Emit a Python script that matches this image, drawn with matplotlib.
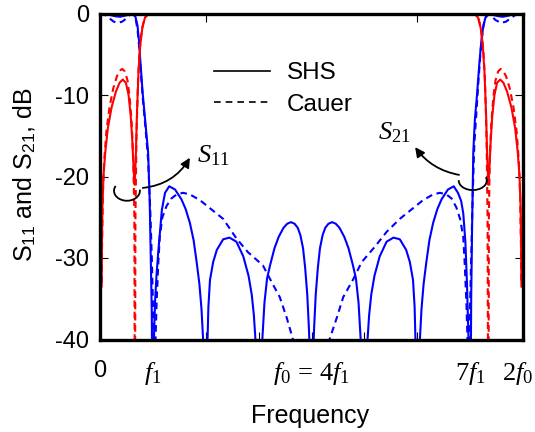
import matplotlib
matplotlib.use('Agg')
import matplotlib.pyplot as plt
import matplotlib.transforms as mtransforms
from matplotlib.patches import Arc, FancyArrowPatch
from matplotlib.lines import Line2D

plt.rcParams['font.family'] = ['Liberation Sans', 'DejaVu Sans']
plt.rcParams['mathtext.fontset'] = 'custom'
plt.rcParams['mathtext.rm'] = 'Liberation Serif'
plt.rcParams['mathtext.it'] = 'Liberation Serif:italic'
plt.rcParams['mathtext.bf'] = 'Liberation Serif:bold'
plt.rcParams['mathtext.sf'] = 'Liberation Sans'

# ---------------- data (x in units of f1, y in dB) ----------------
shs_blue_x = [0, 0.1, 0.2, 0.3, 0.38, 0.45, 0.55, 0.62, 0.67, 0.71, 0.74, 0.77, 0.81, 0.86, 0.91, 0.94, 0.96, 0.98, 1.0,
              1.02, 1.04, 1.07, 1.1, 1.14, 1.17, 1.23, 1.31, 1.42, 1.54, 1.62, 1.70, 1.77, 1.83, 1.88, 1.92, 1.95, 1.98, 2.0,
              2.03, 2.05, 2.08, 2.14, 2.21, 2.33, 2.45, 2.58, 2.71, 2.81, 2.87, 2.91, 2.94, 2.97, 3.0,
              3.04, 3.07, 3.11, 3.16, 3.22, 3.3, 3.38, 3.47, 3.54, 3.61, 3.68, 3.74, 3.79, 3.84, 3.88, 3.92, 3.95, 3.97, 4.0,
              4.03, 4.05, 4.08, 4.12, 4.16, 4.21, 4.26, 4.32, 4.39, 4.46, 4.53, 4.62, 4.7, 4.78, 4.84, 4.89, 4.93, 4.96, 5.0,
              5.03, 5.06, 5.09, 5.13, 5.19, 5.29, 5.42, 5.55, 5.67, 5.79, 5.86, 5.92, 5.95, 5.97, 6.0,
              6.02, 6.05, 6.08, 6.12, 6.17, 6.23, 6.30, 6.38, 6.46, 6.58, 6.69, 6.77, 6.83, 6.87, 6.91, 6.94, 6.97, 7.0,
              7.02, 7.04, 7.06, 7.09, 7.13, 7.17, 7.21, 7.25, 7.29, 7.35, 7.45, 7.55, 7.62, 7.7, 7.8, 7.9, 8.0]
shs_blue_y = [0, -0.05, -0.2, -0.35, -0.4, -0.3, -0.15, -0.1, -0.4, -1.5, -3.5, -6.5, -10, -13.5, -17, -23, -30, -37, -60,
              -40, -35.5, -32, -29.4, -26.3, -24.1, -22.0, -21.2, -21.6, -22.8, -24.0, -25.7, -27.8, -30.6, -33.2, -36.3, -40, -46, -60,
              -41, -36, -32.7, -30.5, -29.0, -27.7, -27.5, -28.0, -29.8, -32.2, -34.5, -37, -40, -45, -60,
              -46, -40, -35.5, -32.5, -30.8, -28.8, -27.4, -26.3, -25.8, -25.6, -25.8, -26.3, -27.2, -28.8, -31.2, -34.5, -38.5, -42, -60,
              -42, -38.5, -34.5, -31.2, -28.8, -27.2, -26.3, -25.8, -25.6, -25.8, -26.3, -27.4, -28.8, -30.8, -32.5, -35.5, -40, -46, -60,
              -45, -40, -37, -34.5, -32.2, -29.8, -28.0, -27.5, -27.7, -29.0, -30.5, -32.7, -36, -41, -60,
              -46, -40, -36.3, -33.2, -30.6, -27.8, -25.7, -24.0, -22.8, -21.6, -21.2, -22.0, -23.0, -24.5, -28, -33, -40, -60,
              -35, -25, -17, -13, -10, -6.5, -3.5, -1.5, -0.5, -0.1, -0.2, -0.35, -0.4, -0.3, -0.15, -0.05, 0]

cauer_blue_x = [0, 0.1, 0.18, 0.26, 0.34, 0.42, 0.5, 0.56, 0.62, 0.67, 0.71, 0.74, 0.77, 0.81, 0.86, 0.91, 0.95, 0.98, 1.01, 1.03,
                1.05, 1.07, 1.1, 1.13, 1.18, 1.26, 1.35, 1.45, 1.57, 1.7, 1.89, 2.1, 2.33, 2.58, 2.8, 3.08, 3.25, 3.4, 3.53, 3.65, 3.8, 4.0,
                4.2, 4.34, 4.48, 4.6, 4.79, 4.95, 5.2, 5.42, 5.67, 5.9, 6.11, 6.3, 6.43, 6.55, 6.65, 6.74, 6.81, 6.87, 6.9, 6.93, 6.95, 6.97,
                6.99, 7.02, 7.05, 7.08, 7.12, 7.16, 7.2, 7.24, 7.28, 7.33, 7.4, 7.48, 7.58, 7.68, 7.76, 7.84, 7.92, 8.0]
cauer_blue_y = [0, -0.2, -0.6, -1.0, -1.15, -1.0, -0.6, -0.2, -0.05, -0.5, -2, -4, -7, -10.5, -14, -18, -24, -30, -38, -60,
                -40, -35.6, -31, -27.4, -25, -23.6, -22.7, -22.2, -22.0, -22.2, -22.9, -24.0, -25.2, -27.6, -29.3, -30.9, -33, -34.8, -37.3, -40, -44, -60,
                -44, -40, -37.3, -34.8, -32.6, -30.5, -28.6, -26.8, -25.2, -24.0, -22.9, -22.2, -22.0, -22.2, -22.7, -23.8, -25.2, -27.4, -31, -35.6, -40, -60,
                -38, -30, -22, -16, -12, -8, -4.5, -2, -0.6, -0.05, -0.3, -0.8, -1.15, -1.0, -0.6, -0.25, -0.05, 0]

shs_red_x = [0.03, 0.035, 0.045, 0.065, 0.1, 0.15, 0.22, 0.3, 0.37, 0.43, 0.49, 0.54, 0.58, 0.61, 0.635, 0.655, 0.675, 0.7, 0.73,
             0.76, 0.8, 0.85, 0.92, 1.0, 4.0, 7.0, 7.08, 7.15, 7.2, 7.24, 7.27, 7.3, 7.325, 7.345, 7.365, 7.39, 7.42, 7.46,
             7.51, 7.57, 7.63, 7.7, 7.78, 7.85, 7.9, 7.935, 7.955, 7.965, 7.97]
shs_red_y = [-33.5, -29, -24, -20, -17, -14, -11.5, -9.6, -8.5, -8.1, -8.5, -10, -12.5, -15.5, -19, -21, -18, -12, -7,
             -4, -1.8, -0.5, -0.05, 0, 0, 0, -0.05, -0.5, -1.8, -4, -7, -12, -18, -21, -19, -15.5, -12.5, -10,
             -8.5, -8.1, -8.5, -9.6, -11.5, -14, -17, -20, -24, -29, -33.5]

cauer_red_x = [0.032, 0.04, 0.055, 0.08, 0.12, 0.18, 0.25, 0.32, 0.38, 0.42, 0.47, 0.52, 0.56, 0.6, 0.63, 0.65, 0.66, 0.67, 0.69,
               0.72, 0.75, 0.79, 0.84, 0.9, 1.0, 7.0, 7.1, 7.16, 7.21, 7.25, 7.28, 7.31, 7.33, 7.345, 7.355, 7.37, 7.4, 7.44,
               7.48, 7.53, 7.58, 7.62, 7.68, 7.75, 7.82, 7.88, 7.92, 7.945, 7.96, 7.968]
cauer_red_y = [-33, -28, -22, -18, -14.5, -11.5, -9.2, -7.7, -7.0, -6.8, -7.1, -8.2, -10.2, -13.5, -18, -25, -60, -25, -15,
               -8, -4.5, -2, -0.6, -0.1, 0, 0, -0.1, -0.6, -2, -4.5, -8, -15, -25, -60, -25, -18, -13.5, -10.2,
               -8.2, -7.1, -6.8, -7.0, -7.7, -9.2, -11.5, -14.5, -18, -22, -28, -33]

x_ticks = [0, 1, 2, 3, 4, 5, 6, 7, 8]
x_ticklabels = ['0', '$f_1$', '', '', r'$f_0\,=\,4f_1$', '', '', '$7f_1$', '$2f_0$']
y_ticks = [0, -10, -20, -30, -40]
y_ticklabels = ['0', '-10', '-20', '-30', '-40']
top_ticks_shown = [2, 6]
legend_labels = ['SHS', 'Cauer']

# ---------------- figure ----------------
fig = plt.figure(figsize=(5.35, 4.32), dpi=100)
ax = fig.add_axes([100 / 535, 92.5 / 432, 423 / 535, 326 / 432])

blue = '#0000ff'
red = '#ff0000'
ax.plot(shs_blue_x, shs_blue_y, color=blue, lw=1.5, zorder=2)
ax.plot(cauer_blue_x, cauer_blue_y, color=blue, lw=1.5, ls=(0, (3.2, 2.2)), zorder=2)
ax.plot(shs_red_x, shs_red_y, color=red, lw=1.5, zorder=2.1)
ax.plot(cauer_red_x, cauer_red_y, color=red, lw=1.5, ls=(0, (3.2, 2.2)), zorder=2.1)

ax.set_xlim(0, 8)
ax.set_ylim(-40, 0)
ax.set_xticks(x_ticks)
ax.set_xticklabels(x_ticklabels)
ax.set_yticks(y_ticks)
ax.set_yticklabels(y_ticklabels)
xlabs = ax.get_xticklabels()
for lab in xlabs:
    lab.set_fontsize(19)
xlabs[0].set_fontsize(17)
ax.tick_params(axis='x', direction='in', length=6, width=0.8, pad=15, top=True)
ax.tick_params(axis='y', direction='in', length=6, width=0.8, pad=8, right=True, labelsize=17)
# nudge the last label inward so it stays inside the canvas
shift = mtransforms.ScaledTranslation(-5 / 100, 0, fig.dpi_scale_trans)
xlabs[-1].set_transform(xlabs[-1].get_transform() + shift)
for t, v in zip(ax.xaxis.get_major_ticks(), x_ticks):
    if v not in top_ticks_shown:
        t.tick2line.set_visible(False)
for s in ax.spines.values():
    s.set_linewidth(2.4)
    s.set_zorder(5)

# legend
handles = [Line2D([], [], color='black', lw=1.2),
           Line2D([], [], color='black', lw=1.2, ls=(0, (4, 3)))]
ax.legend(handles=handles, labels=legend_labels, loc='upper left', bbox_to_anchor=(0.27, 0.85),
          frameon=False, fontsize=17.5, handlelength=2.3, handletextpad=0.7, labelspacing=0.38,
          borderpad=0, borderaxespad=0)

# annotations
ax.add_patch(Arc((0.51, -21.75), 0.49, 2.45, theta1=110, theta2=30, color='black', lw=1.3, zorder=4))
ax.add_patch(FancyArrowPatch((0.81, -21.4), (1.70, -17.7), connectionstyle='arc3,rad=0.25',
                             arrowstyle='-|>', mutation_scale=14, lw=1.3, color='black', shrinkA=0, shrinkB=0, zorder=4))
ax.text(1.83, -18.3, '$S_{11}$', fontsize=19, ha='left', va='baseline')

ax.add_patch(Arc((7.05, -20.5), 0.53, 2.33, theta1=170, theta2=60, color='black', lw=1.3, zorder=4))
ax.add_patch(FancyArrowPatch((6.79, -19.8), (5.96, -16.4), connectionstyle='arc3,rad=-0.2',
                             arrowstyle='-|>', mutation_scale=14, lw=1.3, color='black', shrinkA=0, shrinkB=0, zorder=4))
ax.text(5.26, -15.5, '$S_{21}$', fontsize=19, ha='left', va='baseline')

fig.text(310 / 535, 1 - 416 / 432, 'Frequency', fontsize=18, ha='center', va='center')
fig.text(25 / 535, 1 - 175 / 432, r'S$_{\mathsf{11}}$ and S$_{\mathsf{21}}$, dB', fontsize=18,
         ha='center', va='center', rotation=90)

fig.savefig('out.png', dpi=100)
